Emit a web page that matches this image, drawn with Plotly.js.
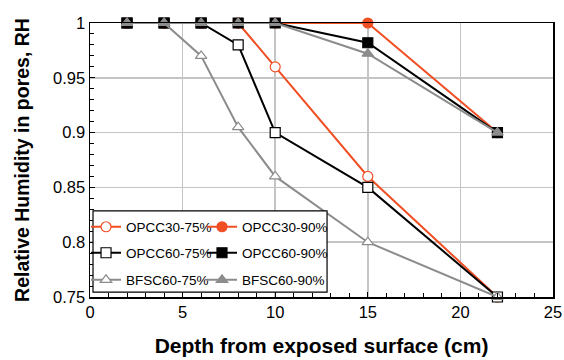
<!DOCTYPE html>
<html><head><meta charset="utf-8">
<script src="https://cdn.plot.ly/plotly-3.0.1.min.js"></script>
<style>html,body{margin:0;padding:0;background:#fff}#chart{width:564px;height:360px}</style>
</head><body><div id="chart"></div>
<script>
const depth = [2, 4, 6, 8, 10, 15, 22];
const opcc30_75 = [1, 1, 1, 1, 0.96, 0.86, 0.75];
const opcc30_90 = [1, 1, 1, 1, 1, 1, 0.9];
const opcc60_75 = [1, 1, 1, 0.98, 0.9, 0.85, 0.75];
const opcc60_90 = [1, 1, 1, 1, 1, 0.982, 0.9];
const bfsc60_75 = [1, 1, 0.97, 0.905, 0.86, 0.8, 0.75];
const bfsc60_90 = [1, 1, 1, 1, 1, 0.972, 0.9];
const names = ["OPCC30-75%", "OPCC30-90%", "OPCC60-75%", "OPCC60-90%", "BFSC60-75%", "BFSC60-90%"];

const orange = "#f04e23", black = "#000000", gray = "#8c8c8c";
function tr(y, name, color, symbol, fill, leg) {
  return {x: depth, y: y, name: name, type: "scatter", mode: "lines+markers",
    line: {color: color, width: 2},
    marker: {symbol: symbol, size: 10, color: fill, line: {color: color, width: 1.2}},
    cliponaxis: false, legend: leg};
}
const data = [
  tr(opcc30_75, names[0], orange, "circle", "#ffffff", "legend"),
  tr(opcc30_90, names[1], orange, "circle", orange, "legend2"),
  tr(opcc60_75, names[2], black, "square", "#ffffff", "legend3"),
  tr(opcc60_90, names[3], black, "square", black, "legend4"),
  tr(bfsc60_75, names[4], gray, "triangle-up", "#ffffff", "legend5"),
  tr(bfsc60_90, names[5], gray, "triangle-up", gray, "legend6")
];
const font = {family: "Arial, 'Liberation Sans', sans-serif", color: "#000"};
function leg(x, y) {
  return {orientation: "h", x: x, y: y, xanchor: "left", yanchor: "middle",
    bgcolor: "rgba(0,0,0,0)", borderwidth: 0,
    font: {size: 13.5}, itemwidth: 30};
}
const c1 = -0.0086, c2 = 0.2419, r1 = 0.2555, r2 = 0.1606, r3 = 0.062;
const layout = {
  width: 564, height: 360,
  margin: {l: 90, r: 11, t: 23, b: 63},
  paper_bgcolor: "#fff", plot_bgcolor: "#fff",
  font: Object.assign({size: 16.5}, font),
  showlegend: true,
  xaxis: {range: [0, 25], dtick: 5, showgrid: true, gridcolor: "#c4c4c4", gridwidth: 1.5,
    zeroline: false, showline: true, linecolor: "#000", linewidth: 1.5, mirror: true,
    ticks: "inside", ticklen: 5, tickcolor: "#000",
    minor: {dtick: 1, ticks: "inside", ticklen: 4, tickcolor: "#000", showgrid: false},
    tickfont: {size: 16.5},
    title: {text: "<b>Depth from exposed surface (cm)</b>", font: {size: 21}, standoff: 18}},
  yaxis: {range: [0.75, 1], dtick: 0.05, showgrid: true, gridcolor: "#c4c4c4", gridwidth: 1.5,
    zeroline: false, showline: true, linecolor: "#000", linewidth: 1.5, mirror: true,
    ticks: "inside", ticklen: 5, tickcolor: "#000",
    minor: {dtick: 0.01, ticks: "inside", ticklen: 4, tickcolor: "#000", showgrid: false},
    tickfont: {size: 16.5},
    title: {text: "<b>Relative Humidity in pores, RH</b>", font: {size: 19.5}, standoff: 18}},
  shapes: [{type: "rect", xref: "paper", yref: "paper", x0: 0.0065, x1: 0.512, y0: 0.018, y1: 0.314,
    line: {color: "#000", width: 1.2}, fillcolor: "#fff", layer: "above"}],
  legend: leg(c1, r1), legend2: leg(c2, r1),
  legend3: leg(c1, r2), legend4: leg(c2, r2),
  legend5: leg(c1, r3), legend6: leg(c2, r3)
};
Plotly.newPlot("chart", data, layout, {displayModeBar: false, staticPlot: true});
</script></body></html>
